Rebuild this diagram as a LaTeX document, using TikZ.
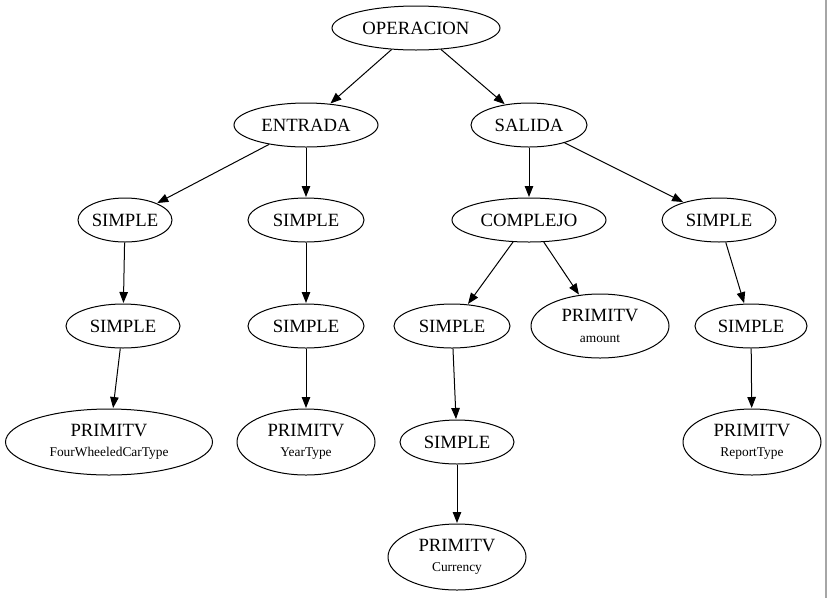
\documentclass[tikz,border=0pt]{standalone}
\usepackage{fontspec}
\setmainfont{Liberation Serif}
\usetikzlibrary{shapes.geometric,arrows.meta}
\tikzset{
  nd/.style={draw=black,line width=1pt,ellipse,inner sep=0pt,font=\fontsize{18.7}{22}\selectfont,align=center},
  ed/.style={draw=black,line width=1pt,-{Triangle[length=11pt,width=8.5pt]},shorten >=0.5pt},
}
\newcommand{\subt}[1]{\\[-1.5pt]{\fontsize{13.4}{15}\selectfont #1}}
\begin{document}
\begin{tikzpicture}[x=1pt,y=-1pt]
\useasboundingbox (0,0) rectangle (827,598);
\fill[white] (0,0) rectangle (827,598);
\draw[gray!70,line width=1.2pt] (826,0) -- (826,598);
\node[nd,minimum width=168,minimum height=44] (op) at (416,28) {OPERACION};
\node[nd,minimum width=144,minimum height=44] (en) at (306,125) {ENTRADA};
\node[nd,minimum width=116,minimum height=44] (sa) at (529,125) {SALIDA};
\node[nd,minimum width=91,minimum height=44] (s1) at (125,220) {SIMPLE};
\node[nd,minimum width=116,minimum height=44] (s2) at (306,220) {SIMPLE};
\node[nd,minimum width=154,minimum height=44] (co) at (529,220) {COMPLEJO};
\node[nd,minimum width=114,minimum height=44] (s3) at (719,220) {SIMPLE};
\node[nd,minimum width=114,minimum height=44] (s4) at (123,326) {SIMPLE};
\node[nd,minimum width=116,minimum height=44] (s5) at (306,326) {SIMPLE};
\node[nd,minimum width=116,minimum height=44] (s6) at (452,326) {SIMPLE};
\node[nd,minimum width=138,minimum height=64] (pa) at (600,326) {PRIMITV\subt{amount}};
\node[nd,minimum width=112,minimum height=44] (s7) at (751,326) {SIMPLE};
\node[nd,minimum width=207,minimum height=66] (pf) at (109,442) {PRIMITV\subt{FourWheeledCarType}};
\node[nd,minimum width=138,minimum height=66] (py) at (306,442) {PRIMITV\subt{YearType}};
\node[nd,minimum width=114,minimum height=44] (s8) at (457,442) {SIMPLE};
\node[nd,minimum width=138,minimum height=66] (pr) at (752,442) {PRIMITV\subt{ReportType}};
\node[nd,minimum width=138,minimum height=66] (pc) at (457,557) {PRIMITV\subt{Currency}};
\draw[ed] (op) -- (en);
\draw[ed] (op) -- (sa);
\draw[ed] (en) -- (s1);
\draw[ed] (en) -- (s2);
\draw[ed] (sa) -- (co);
\draw[ed] (sa) -- (s3);
\draw[ed] (s1) -- (s4);
\draw[ed] (s4) -- (pf);
\draw[ed] (s2) -- (s5);
\draw[ed] (s5) -- (py);
\draw[ed] (co) -- (s6);
\draw[ed] (co) -- (pa);
\draw[ed] (s6) -- (s8);
\draw[ed] (s8) -- (pc);
\draw[ed] (s3) -- (s7);
\draw[ed] (s7) -- (pr);
\end{tikzpicture}
\end{document}
